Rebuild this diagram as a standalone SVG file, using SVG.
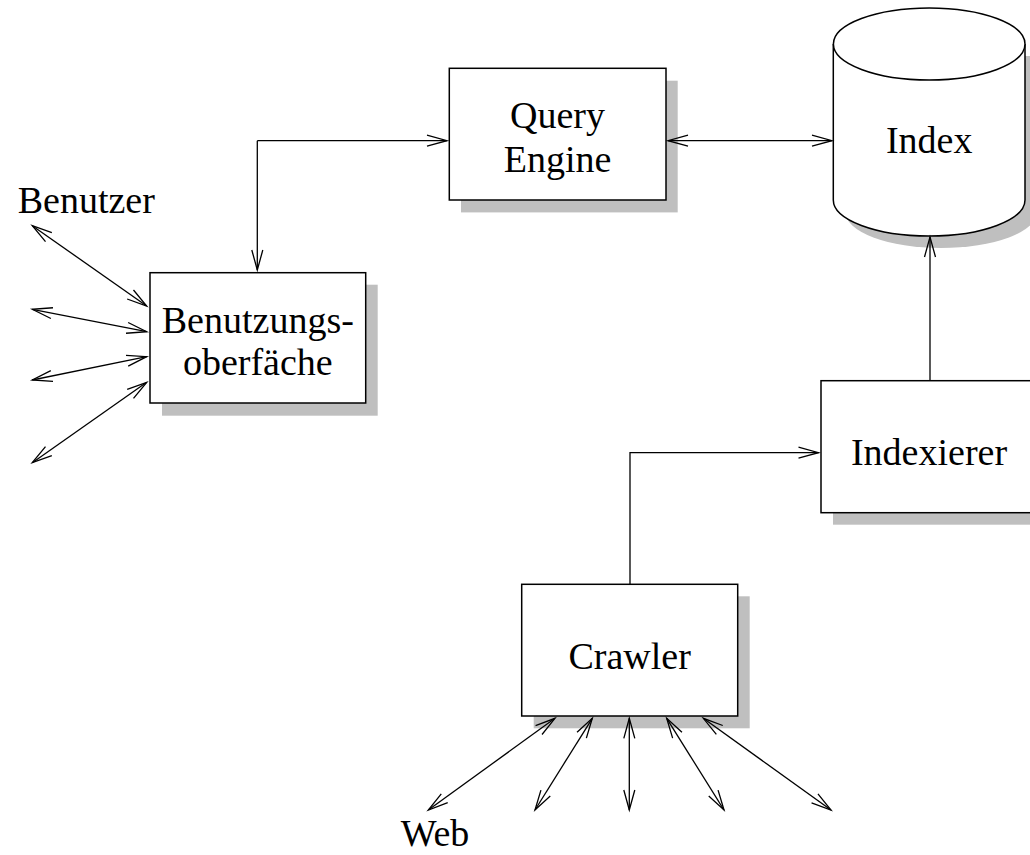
<svg xmlns="http://www.w3.org/2000/svg" width="1030" height="855" viewBox="0 0 1030 855">
<style>
.box{fill:#fff;stroke:#000;stroke-width:1.5}
.shadow{fill:#bfbfbf;stroke:none}
.lbl{font-family:"Liberation Serif","Times New Roman",serif;font-size:38px;fill:#000;text-anchor:middle}
.con{fill:none;stroke:#000;stroke-width:1.3}
.a1{marker-end:url(#arr)}
.a2{marker-end:url(#arr);marker-start:url(#arr)}
</style>
<defs>
<marker id="arr" markerUnits="userSpaceOnUse" markerWidth="24" markerHeight="14" refX="20" refY="6" orient="auto-start-reverse" overflow="visible">
<path d="M0,0.5 L20,6 L0,11.5" fill="none" stroke="#000" stroke-width="1.3"/>
</marker>
</defs>
<rect width="1030" height="855" fill="#fff"/>
<g id="query-engine">
<rect class="shadow" x="461" y="80.7" width="216.7" height="131.7"/>
<rect class="box" x="449.3" y="68.3" width="216.7" height="131.7"/>
<text class="lbl" x="557.5" y="128.3">Query</text>
<text class="lbl" x="557.5" y="171.7">Engine</text>
</g>
<g id="index">
<path class="shadow" d="M845.3,56 V212 A95.8,36 0 0 0 1037,212 V56 Z"/>
<path class="box" d="M833.3,44 V200 A95.8,36 0 0 0 1025,200 V44"/>
<ellipse class="box" cx="929.2" cy="44" rx="95.8" ry="36"/>
<text class="lbl" x="929.2" y="153.3">Index</text>
</g>
<g id="benutzungsoberflaeche">
<rect class="shadow" x="162" y="284.7" width="215.7" height="131"/>
<rect class="box" x="150" y="272.7" width="215.7" height="130.3"/>
<text class="lbl" x="257.8" y="333.3">Benutzungs-</text>
<text class="lbl" x="257.8" y="375">oberfäche</text>
</g>
<g id="indexierer">
<rect class="shadow" x="833" y="392.7" width="216" height="132"/>
<rect class="box" x="821" y="380.7" width="216" height="132"/>
<text class="lbl" x="929" y="465">Indexierer</text>
</g>
<g id="crawler">
<rect class="shadow" x="533.7" y="596.3" width="216" height="132"/>
<rect class="box" x="521.7" y="584.3" width="216" height="131.7"/>
<text class="lbl" x="629.7" y="669.3">Crawler</text>
</g>
<g id="labels">
<text class="lbl" x="86.3" y="213.3">Benutzer</text>
<text class="lbl" x="435" y="846">Web</text>
</g>
<g id="connectors">
<path class="con a1" d="M257.3,140.7 H447"/>
<path class="con a1" d="M257.3,140.7 V270"/>
<path class="con a2" d="M668,140.7 H832"/>
<path class="con a1" d="M930,380.7 V237"/>
<path class="con a1" d="M630,584.3 V452.7 H818.5"/>
<line class="con a2" x1="32.3" y1="225.7" x2="146.7" y2="306"/>
<line class="con a2" x1="32.3" y1="309.3" x2="146.7" y2="331.7"/>
<line class="con a2" x1="32.3" y1="380" x2="146.7" y2="356.7"/>
<line class="con a2" x1="32.3" y1="462.7" x2="146.7" y2="382.3"/>
<line class="con a2" x1="555" y1="718.3" x2="428.3" y2="810"/>
<line class="con a2" x1="592.3" y1="718.3" x2="535" y2="810"/>
<line class="con a2" x1="629.3" y1="718.3" x2="629.3" y2="810"/>
<line class="con a2" x1="666.7" y1="718.3" x2="724" y2="810"/>
<line class="con a2" x1="703.3" y1="718.3" x2="831" y2="810"/>
</g>
</svg>
